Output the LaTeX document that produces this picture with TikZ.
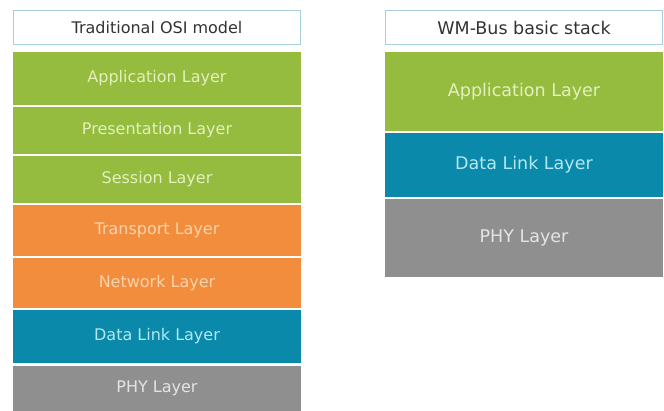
\documentclass[tikz,border=0pt]{standalone}
\usepackage{fontspec}
\setmainfont{DejaVu Sans}
\definecolor{layergreen}{HTML}{95BC3E}
\definecolor{layerorange}{HTML}{F18D3D}
\definecolor{layerblue}{HTML}{0A89AA}
\definecolor{layergray}{HTML}{8F8F8F}
\definecolor{txtgreen}{HTML}{E2F0BE}
\definecolor{txtorange}{HTML}{FCD3A9}
\definecolor{txtblue}{HTML}{B2E8F2}
\definecolor{txtgray}{HTML}{E4E4E4}
\definecolor{titleborder}{HTML}{A9CDE3}
\definecolor{titletext}{HTML}{333333}
\begin{document}
\begin{tikzpicture}[x=1pt,y=-1pt,
  layer/.style={anchor=north west,inner sep=0pt,outer sep=0pt,align=center},
  titlebox/.style={layer,draw=titleborder,line width=1.2pt,fill=white,text=titletext},
  green/.style={layer,fill=layergreen,text=txtgreen},
  orange/.style={layer,fill=layerorange,text=txtorange},
  blue/.style={layer,fill=layerblue,text=txtblue},
  gray/.style={layer,fill=layergray,text=txtgray},
  lfont/.style={font=\fontsize{16}{19}\selectfont},
  rfont/.style={font=\fontsize{17.5}{20}\selectfont}]
\useasboundingbox (0,0) rectangle (664,411);
\fill[white] (0,0) rectangle (664,411);

% OSI reference stack (left)
\node[titlebox,lfont,minimum width=287pt,minimum height=34pt] (osititle) at (13.5,10.5) {Traditional OSI model};
\node[green,lfont,minimum width=288pt,minimum height=53pt] (osiapp) at (13,52) {Application Layer};
\node[green,lfont,minimum width=288pt,minimum height=47pt] (osipres) at (13,107) {Presentation Layer};
\node[green,lfont,minimum width=288pt,minimum height=47pt] (osisess) at (13,156) {Session Layer};
\node[orange,lfont,minimum width=288pt,minimum height=51pt] (ositrans) at (13,205) {Transport Layer};
\node[orange,lfont,minimum width=288pt,minimum height=50pt] (osinet) at (13,258) {Network Layer};
\node[blue,lfont,minimum width=288pt,minimum height=53pt] (osidl) at (13,310) {Data Link Layer};
\node[gray,lfont,minimum width=288pt,minimum height=45pt] (osiphy) at (13,366) {PHY Layer};

% WM-Bus stack (right)
\node[titlebox,rfont,minimum width=277pt,minimum height=34pt] (wmtitle) at (385.5,10.5) {WM-Bus basic stack};
\node[green,rfont,minimum width=278pt,minimum height=79pt] (wmapp) at (385,52) {Application Layer};
\node[blue,rfont,minimum width=278pt,minimum height=64pt] (wmdl) at (385,133) {Data Link Layer};
\node[gray,rfont,minimum width=278pt,minimum height=78pt] (wmphy) at (385,199) {PHY Layer};
\end{tikzpicture}
\end{document}
